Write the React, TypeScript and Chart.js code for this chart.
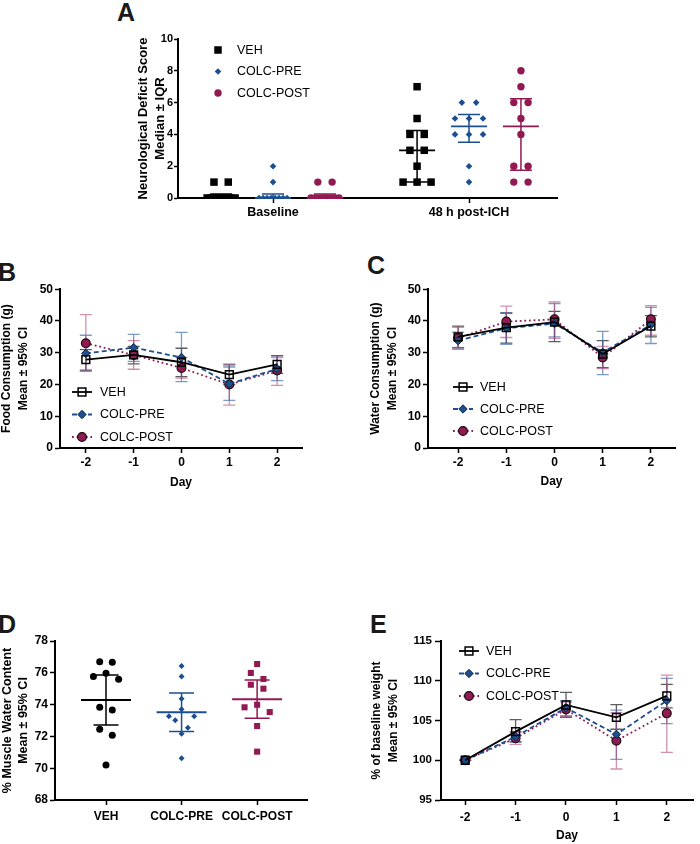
import React, { useEffect, useRef } from "react";
import { Chart, registerables } from "chart.js";

Chart.register(...registerables);

const FONT = "'Liberation Sans', Arial, Helvetica, sans-serif";
Chart.defaults.font.family = FONT;
Chart.defaults.color = "#000";

const BLACK = "#000000";
const BLUE = "#1c4f8f";
const CRIMSON = "#921a52";

const SERIES = ["VEH", "COLC-PRE", "COLC-POST"];

// ---------- Panel A: Neurological deficit score (individual animals)
const A_GROUPS = ["Baseline", "48 h post-ICH"];
const A_VEH_BASELINE = [0, 0, 0, 0, 0, 0, 0, 0, 1, 1];
const A_PRE_BASELINE = [0, 0, 0, 0, 0, 0, 0, 0, 1, 2];
const A_POST_BASELINE = [0, 0, 0, 0, 0, 0, 0, 0, 1, 1];
const A_VEH_48H = [7, 5, 4, 4, 3, 3, 2, 1, 1, 1];
const A_PRE_48H = [6, 6, 5, 5, 5, 4, 4, 4, 2, 1];
const A_POST_48H = [8, 7, 6, 6, 5, 4, 2, 2, 1, 1];

// ---------- Panels B, C, E: days
const DAYS = [-2, -1, 0, 1, 2];

// Panel B: food consumption (g), mean and 95% CI
const B_VEH_MEAN = [27.8, 29.3, 27.0, 23.1, 26.3];
const B_VEH_LO = [24.5, 26.5, 22.5, 20.0, 23.5];
const B_VEH_HI = [31.0, 32.0, 31.4, 26.2, 29.1];
const B_PRE_MEAN = [29.8, 31.6, 28.5, 20.2, 24.9];
const B_PRE_LO = [24.2, 27.3, 20.9, 15.0, 21.2];
const B_PRE_HI = [35.5, 35.8, 36.4, 25.5, 29.0];
const B_POST_MEAN = [33.0, 29.3, 25.2, 20.0, 24.4];
const B_POST_LO = [24.2, 24.8, 22.0, 13.5, 19.7];
const B_POST_HI = [42.0, 33.8, 28.5, 26.5, 28.5];

// Panel C: water consumption (g)
const C_VEH_MEAN = [35.0, 37.9, 39.6, 29.6, 38.4];
const C_VEH_LO = [31.6, 33.0, 33.5, 25.3, 35.0];
const C_VEH_HI = [38.4, 42.5, 43.0, 33.8, 41.7];
const C_PRE_MEAN = [33.8, 37.7, 39.2, 30.1, 38.8];
const C_PRE_LO = [31.1, 32.6, 35.0, 23.1, 32.9];
const C_PRE_HI = [36.5, 42.5, 45.5, 36.7, 44.3];
const C_POST_MEAN = [34.6, 39.8, 40.5, 28.5, 40.5];
const C_POST_LO = [31.5, 34.8, 34.5, 25.0, 35.5];
const C_POST_HI = [38.0, 44.7, 46.0, 32.0, 44.8];

// Panel D: % muscle water content (individual animals)
const D_VEH = [76.7, 76.66, 75.97, 75.76, 75.59, 73.83, 73.66, 72.45, 72.07, 70.2];
const D_PRE = [76.43, 75.76, 74.37, 73.7, 73.26, 73.26, 73.01, 72.55, 72.17, 70.62];
const D_POST = [76.55, 75.99, 75.61, 75.25, 75.0, 73.99, 73.83, 73.53, 72.65, 71.04];

// Panel E: % of baseline weight
const E_VEH_MEAN = [100, 103.6, 106.95, 105.4, 108.1];
const E_VEH_LO = [100, 102.3, 105.4, 103.9, 106.6];
const E_VEH_HI = [100, 105.1, 108.55, 107.0, 109.55];
const E_PRE_MEAN = [100, 102.96, 106.6, 103.26, 107.5];
const E_PRE_LO = [100, 102.3, 105.6, 100.1, 104.6];
const E_PRE_HI = [100, 103.6, 107.5, 106.3, 110.3];
const E_POST_MEAN = [100, 102.76, 106.4, 102.46, 105.9];
const E_POST_LO = [100, 102.0, 105.5, 98.9, 101.0];
const E_POST_HI = [100, 103.5, 107.3, 106.0, 110.7];

// ---------- statistics helpers
function quantile(vals: number[], p: number): number {
  const s = [...vals].sort((a, b) => a - b);
  const n = s.length;
  const pos = p * (n + 1);
  const lo = Math.floor(pos);
  const f = pos - lo;
  if (lo < 1) return s[0];
  if (lo >= n) return s[n - 1];
  return s[lo - 1] + f * (s[lo] - s[lo - 1]);
}
const T95 = [NaN, 12.706, 4.303, 3.182, 2.776, 2.571, 2.447, 2.365, 2.306, 2.262, 2.228, 2.201, 2.179, 2.16, 2.145, 2.131];
function meanCI(vals: number[]) {
  const n = vals.length;
  const m = vals.reduce((a, b) => a + b, 0) / n;
  const sd = Math.sqrt(vals.reduce((a, b) => a + (b - m) * (b - m), 0) / (n - 1));
  const h = (T95[n - 1] || 1.96) * sd / Math.sqrt(n);
  return { mid: m, lo: m - h, hi: m + h };
}

// symmetric "swarm" spreading of points whose pixel y are close
function swarmOffsets(values: number[], yPx: (v: number) => number, rowH: number, S: number, W: number): number[] {
  const idx = values.map((_, i) => i).sort((a, b) => values[b] - values[a]);
  const out = new Array(values.length).fill(0);
  let k = 0;
  while (k < idx.length) {
    const start = yPx(values[idx[k]]);
    let j = k;
    while (j < idx.length && Math.abs(yPx(values[idx[j]]) - start) < rowH) j++;
    const n = j - k;
    const s = n > 1 ? Math.min(S, W / (n - 1)) : 0;
    const offs: number[] = [];
    for (let m = 0; m < n; m++) offs.push((m - (n - 1) / 2) * s);
    offs.sort((a, b) => Math.abs(a) - Math.abs(b) || a - b);
    for (let m = 0; m < n; m++) out[idx[k + m]] = offs[m];
    k = j;
  }
  return out;
}

function applySwarm(chart: any, rowH: number, S: number, W: number) {
  const xs = chart.scales.x;
  const ys = chart.scales.y;
  const pxPerX = xs.getPixelForValue(1) - xs.getPixelForValue(0);
  chart.data.datasets.forEach((ds: any) => {
    const nd: any[] = [];
    ds.swarm.forEach((gr: any) => {
      const offs = swarmOffsets(gr.values, (v) => ys.getPixelForValue(v), rowH, S, W);
      gr.values.forEach((v: number, i: number) => nd.push({ x: gr.center + offs[i] / pxPerX, y: v }));
    });
    ds.data = nd;
  });
  chart.update("none");
}

// ---------- drawing helpers / plugins
function drawMarker(ctx: CanvasRenderingContext2D, style: string, x: number, y: number, r: number, fill: string, stroke: string, lw: number) {
  ctx.save();
  ctx.beginPath();
  if (style === "rect") {
    const s = r * Math.SQRT1_2;
    ctx.rect(x - s, y - s, 2 * s, 2 * s);
  } else if (style === "rectRot") {
    ctx.moveTo(x, y - r);
    ctx.lineTo(x + r, y);
    ctx.lineTo(x, y + r);
    ctx.lineTo(x - r, y);
    ctx.closePath();
  } else {
    ctx.arc(x, y, r, 0, Math.PI * 2);
  }
  if (fill) {
    ctx.fillStyle = fill;
    ctx.fill();
  }
  if (lw > 0) {
    ctx.lineWidth = lw;
    ctx.strokeStyle = stroke;
    ctx.stroke();
  }
  ctx.restore();
}

const legendPlugin = {
  id: "panelLegend",
  afterDraw(chart: any, _args: any, opts: any) {
    const ctx: CanvasRenderingContext2D = chart.ctx;
    chart.data.datasets.forEach((ds: any, i: number) => {
      const y = opts.y + i * opts.rowH;
      if (opts.lineLen > 0) {
        ctx.save();
        ctx.strokeStyle = ds.borderColor;
        ctx.lineWidth = ds.borderWidth;
        ctx.setLineDash(ds.borderDash || []);
        ctx.beginPath();
        ctx.moveTo(opts.x - opts.lineLen / 2, y);
        ctx.lineTo(opts.x + opts.lineLen / 2, y);
        ctx.stroke();
        ctx.restore();
      }
      drawMarker(ctx, ds.pointStyle, opts.x, y, ds.pointRadius, ds.pointBackgroundColor, ds.pointBorderColor, ds.pointBorderWidth);
      ctx.save();
      ctx.fillStyle = "#000";
      ctx.font = `${opts.fontSize}px ${FONT}`;
      ctx.textBaseline = "middle";
      ctx.textAlign = "left";
      ctx.fillText(ds.label, opts.textX, y + 0.5);
      ctx.restore();
    });
  },
};

const errorBarPlugin = {
  id: "errorBars",
  beforeDatasetsDraw(chart: any, _args: any, opts: any) {
    const ctx: CanvasRenderingContext2D = chart.ctx;
    const xs = chart.scales.x;
    const ys = chart.scales.y;
    chart.data.datasets.forEach((ds: any) => {
      if (!ds.errLo) return;
      ctx.save();
      ctx.strokeStyle = ds.errColor;
      ctx.lineWidth = opts.lineWidth;
      ds.data.forEach((p: any, i: number) => {
        const px = xs.getPixelForValue(p.x);
        const yl = ys.getPixelForValue(ds.errLo[i]);
        const yh = ys.getPixelForValue(ds.errHi[i]);
        ctx.beginPath();
        ctx.moveTo(px, yl);
        ctx.lineTo(px, yh);
        ctx.moveTo(px - opts.cap, yl);
        ctx.lineTo(px + opts.cap, yl);
        ctx.moveTo(px - opts.cap, yh);
        ctx.lineTo(px + opts.cap, yh);
        ctx.stroke();
      });
      ctx.restore();
    });
  },
};

const summaryPlugin = {
  id: "summaryBars",
  afterDatasetsDraw(chart: any, _args: any, opts: any) {
    const ctx: CanvasRenderingContext2D = chart.ctx;
    const xs = chart.scales.x;
    const ys = chart.scales.y;
    chart.data.datasets.forEach((ds: any) => {
      if (!ds.summaries) return;
      ctx.save();
      ctx.strokeStyle = ds.summaryColor;
      ds.summaries.forEach((s: any) => {
        const px = xs.getPixelForValue(s.x);
        const yl = ys.getPixelForValue(s.lo);
        const yh = ys.getPixelForValue(s.hi);
        const ym = ys.getPixelForValue(s.mid);
        ctx.lineWidth = opts.barWidth;
        ctx.beginPath();
        ctx.moveTo(px, yl);
        ctx.lineTo(px, yh);
        ctx.moveTo(px - opts.capHalf, yl);
        ctx.lineTo(px + opts.capHalf, yl);
        ctx.moveTo(px - opts.capHalf, yh);
        ctx.lineTo(px + opts.capHalf, yh);
        ctx.stroke();
        ctx.lineWidth = opts.midWidth;
        ctx.beginPath();
        ctx.moveTo(px - opts.midHalf, ym);
        ctx.lineTo(px + opts.midHalf, ym);
        ctx.stroke();
      });
      ctx.restore();
    });
  },
};

// ---------- scale builders
function yScale(o: any) {
  return {
    type: "linear",
    position: "left",
    min: o.min,
    max: o.max,
    ticks: { stepSize: o.step, font: { size: o.tickSize, weight: "bold", family: FONT }, color: "#000", padding: o.tickPad },
    grid: { drawOnChartArea: false, drawTicks: true, tickLength: o.tickLen, tickWidth: 1.5, tickColor: "#000" },
    border: { display: true, color: "#000", width: 2 },
    title: {
      display: true,
      text: o.title,
      color: "#000",
      font: { size: o.titleSize, weight: "bold", family: FONT, lineHeight: o.titleLH },
      padding: { top: o.titlePad, bottom: 0 },
    },
    afterFit: (s: any) => {
      s.width = o.width;
    },
  };
}

function xScale(o: any) {
  return {
    type: "linear",
    position: "bottom",
    min: o.min,
    max: o.max,
    afterBuildTicks: (s: any) => {
      s.ticks = o.ticks.map((v: number) => ({ value: v }));
    },
    ticks: {
      font: { size: o.tickSize, weight: "bold", family: FONT },
      color: "#000",
      padding: o.tickPad,
      maxRotation: 0,
      autoSkip: false,
      callback: (v: number) => (o.labels ? o.labels[o.ticks.indexOf(v)] : String(v)),
    },
    grid: { drawOnChartArea: false, drawTicks: true, tickLength: o.tickLen, tickWidth: 1.5, tickColor: "#000" },
    border: { display: true, color: "#000", width: 2 },
    title: o.title
      ? {
          display: true,
          text: o.title,
          color: "#000",
          font: { size: o.titleSize, weight: "bold", family: FONT, lineHeight: 1.2 },
          padding: { top: 0, bottom: o.titlePadBottom },
        }
      : { display: false },
    afterFit: (s: any) => {
      s.height = o.height;
    },
  };
}

// ---------- line style per series (B, C, E)
const LINE_STYLES = [
  { color: BLACK, lw: 1.8, dash: [], pointStyle: "rect", r: 5.5, fill: "rgba(255,255,255,0)", stroke: BLACK, plw: 1.5, err: "rgba(40,40,40,0.75)", order: 1 },
  { color: BLUE, lw: 1.8, dash: [5, 3], pointStyle: "rectRot", r: 4.2, fill: BLUE, stroke: "#0f2747", plw: 1, err: "rgba(50,100,170,0.65)", order: 2 },
  { color: CRIMSON, lw: 1.8, dash: [1.8, 2.8], pointStyle: "circle", r: 4.4, fill: CRIMSON, stroke: "#1a0a10", plw: 1.2, err: "rgba(180,70,120,0.6)", order: 3 },
];

function lineDatasets(means: number[][], los: number[][], his: number[][]) {
  return SERIES.map((label, s) => {
    const st = LINE_STYLES[s];
    return {
      label,
      data: DAYS.map((d, i) => ({ x: d, y: means[s][i] })),
      errLo: los[s],
      errHi: his[s],
      errColor: st.err,
      borderColor: st.color,
      borderWidth: st.lw,
      borderDash: st.dash,
      pointStyle: st.pointStyle,
      pointRadius: st.r,
      pointBackgroundColor: st.fill,
      pointBorderColor: st.stroke,
      pointBorderWidth: st.plw,
      order: st.order,
      tension: 0,
      fill: false,
    };
  });
}

function lineChart(canvas: HTMLCanvasElement, c: any) {
  return new Chart(canvas, {
    type: "line",
    data: { datasets: c.datasets },
    options: {
      responsive: false,
      animation: false,
      events: [],
      layout: { padding: { left: 0, top: c.area.t, right: c.w - c.area.r, bottom: 0 } },
      scales: {
        x: xScale({ ...c.x, height: c.h - c.area.b }),
        y: yScale({ ...c.y, width: c.area.l }),
      },
      plugins: {
        legend: { display: false },
        tooltip: { enabled: false },
        panelLegend: c.legend,
        errorBars: { cap: 6, lineWidth: 1.3 },
      },
    } as any,
    plugins: [errorBarPlugin, legendPlugin],
  });
}

// ---------- panel builders
const A_BOX = { left: 100, top: 25, w: 470, h: 200, area: { l: 78, t: 14, r: 457, b: 173 } };
const A_SERIES_OFFSET = [-0.265, 0, 0.265];

function buildA(canvas: HTMLCanvasElement) {
  const groups = [
    [A_VEH_BASELINE, A_VEH_48H],
    [A_PRE_BASELINE, A_PRE_48H],
    [A_POST_BASELINE, A_POST_48H],
  ];
  const styles = [
    { color: BLACK, ps: "rect", r: 5.3 },
    { color: BLUE, ps: "rectRot", r: 3.3 },
    { color: CRIMSON, ps: "circle", r: 3.7 },
  ];
  const datasets = SERIES.map((label, s) => {
    const swarm = groups[s].map((vals, g) => ({ center: g + A_SERIES_OFFSET[s], values: vals }));
    return {
      label,
      data: swarm.flatMap((gr) => gr.values.map((v) => ({ x: gr.center, y: v }))),
      swarm,
      summaries: swarm.map((gr) => ({ x: gr.center, mid: quantile(gr.values, 0.5), lo: quantile(gr.values, 0.25), hi: quantile(gr.values, 0.75) })),
      summaryColor: styles[s].color,
      pointStyle: styles[s].ps,
      pointRadius: styles[s].r,
      pointBackgroundColor: styles[s].color,
      pointBorderColor: styles[s].color,
      pointBorderWidth: 0,
      showLine: false,
    };
  });
  const b = A_BOX;
  const chart: any = new Chart(canvas, {
    type: "scatter",
    data: { datasets },
    options: {
      responsive: false,
      animation: false,
      events: [],
      layout: { padding: { left: 0, top: b.area.t, right: b.w - b.area.r, bottom: 0 } },
      scales: {
        x: xScale({ min: -0.485, max: 1.449, ticks: [0, 1], labels: A_GROUPS, tickSize: 12.5, tickLen: 5, tickPad: 2.5, height: b.h - b.area.b }),
        y: yScale({
          min: 0, max: 10, step: 2, tickSize: 11, tickLen: 4, tickPad: 1, width: b.area.l,
          title: ["Neurological Deficit Score", "Median \u00b1 IQR"], titleSize: 13, titleLH: 1.38, titlePad: 34,
        }),
      },
      plugins: {
        legend: { display: false },
        tooltip: { enabled: false },
        panelLegend: { x: 118, y: 25, rowH: 21.5, lineLen: 0, textX: 137, fontSize: 12.5 },
        summaryBars: { midHalf: 18, capHalf: 11, midWidth: 1.8, barWidth: 1.5 },
      },
    } as any,
    plugins: [summaryPlugin, legendPlugin],
  });
  applySwarm(chart, 6, 14.3, 28);
  return chart;
}

const B_BOX = { left: 0, top: 280, w: 310, h: 215, area: { l: 60, t: 9, r: 302, b: 168 } };
function buildB(canvas: HTMLCanvasElement) {
  const b = B_BOX;
  return lineChart(canvas, {
    w: b.w, h: b.h, area: b.area,
    datasets: lineDatasets([B_VEH_MEAN, B_PRE_MEAN, B_POST_MEAN], [B_VEH_LO, B_PRE_LO, B_POST_LO], [B_VEH_HI, B_PRE_HI, B_POST_HI]),
    x: { min: -2.54, max: 2.52, ticks: DAYS, tickSize: 12, tickLen: 5, tickPad: 2.8, title: "Day", titleSize: 12, titlePadBottom: 4.8 },
    y: { min: 0, max: 50, step: 10, tickSize: 12, tickLen: 5, tickPad: 2, title: ["Food Consumption (g)", "Mean \u00b1 95% CI"], titleSize: 12, titleLH: 1.4, titlePad: -1.4 },
    legend: { x: 82, y: 112, rowH: 22.5, lineLen: 20, textX: 100, fontSize: 12.5 },
  });
}

const C_BOX = { left: 365, top: 280, w: 335, h: 215, area: { l: 63, t: 9, r: 310, b: 168 } };
function buildC(canvas: HTMLCanvasElement) {
  const b = C_BOX;
  return lineChart(canvas, {
    w: b.w, h: b.h, area: b.area,
    datasets: lineDatasets([C_VEH_MEAN, C_PRE_MEAN, C_POST_MEAN], [C_VEH_LO, C_PRE_LO, C_POST_LO], [C_VEH_HI, C_PRE_HI, C_POST_HI]),
    x: { min: -2.625, max: 2.5, ticks: DAYS, tickSize: 12, tickLen: 5, tickPad: 2.8, title: "Day", titleSize: 12, titlePadBottom: 6 },
    y: { min: 0, max: 50, step: 10, tickSize: 12, tickLen: 5, tickPad: 2, title: ["Water Consumption (g)", "Mean \u00b1 95% CI"], titleSize: 12, titleLH: 1.35, titlePad: 3 },
    legend: { x: 98, y: 107, rowH: 22, lineLen: 20, textX: 115, fontSize: 12.5 },
  });
}

const D_BOX = { left: 0, top: 630, w: 320, h: 205, area: { l: 55, t: 11, r: 307, b: 170 } };
const D_CATEGORIES = ["VEH", "COLC-PRE", "COLC-POST"];
function buildD(canvas: HTMLCanvasElement) {
  const b = D_BOX;
  const vals = [D_VEH, D_PRE, D_POST];
  const styles = [
    { color: BLACK, ps: "circle", r: 3.5 },
    { color: BLUE, ps: "rectRot", r: 3.0 },
    { color: CRIMSON, ps: "rect", r: 4.3 },
  ];
  const datasets = SERIES.map((label, s) => {
    const swarm = [{ center: s, values: vals[s] }];
    const st = meanCI(vals[s]);
    return {
      label,
      data: vals[s].map((v) => ({ x: s, y: v })),
      swarm,
      summaries: [{ x: s, mid: st.mid, lo: st.lo, hi: st.hi }],
      summaryColor: styles[s].color,
      pointStyle: styles[s].ps,
      pointRadius: styles[s].r,
      pointBackgroundColor: styles[s].color,
      pointBorderColor: styles[s].color,
      pointBorderWidth: 0,
      showLine: false,
    };
  });
  const chart: any = new Chart(canvas, {
    type: "scatter",
    data: { datasets },
    options: {
      responsive: false,
      animation: false,
      events: [],
      layout: { padding: { left: 0, top: b.area.t, right: b.w - b.area.r, bottom: 0 } },
      scales: {
        x: xScale({ min: -0.675, max: 2.66, ticks: [0, 1, 2], labels: D_CATEGORIES, tickSize: 12, tickLen: 5, tickPad: 4.5, height: b.h - b.area.b }),
        y: yScale({
          min: 68, max: 78, step: 2, tickSize: 12, tickLen: 5, tickPad: 2, width: b.area.l,
          title: ["% Muscle Water Content", "Mean \u00b1 95% CI"], titleSize: 12.5, titleLH: 1.32, titlePad: -1,
        }),
      },
      plugins: {
        legend: { display: false },
        tooltip: { enabled: false },
        summaryBars: { midHalf: 25, capHalf: 12.5, midWidth: 2, barWidth: 1.5 },
      },
    } as any,
    plugins: [summaryPlugin],
  });
  applySwarm(chart, 8, 12.6, 28);
  return chart;
}

const E_BOX = { left: 365, top: 630, w: 335, h: 214, area: { l: 76, t: 11, r: 335, b: 170 } };
function buildE(canvas: HTMLCanvasElement) {
  const b = E_BOX;
  return lineChart(canvas, {
    w: b.w, h: b.h, area: b.area,
    datasets: lineDatasets([E_VEH_MEAN, E_PRE_MEAN, E_POST_MEAN], [E_VEH_LO, E_PRE_LO, E_POST_LO], [E_VEH_HI, E_PRE_HI, E_POST_HI]),
    x: { min: -2.48, max: 2.52, ticks: DAYS, tickSize: 12, tickLen: 5, tickPad: 5.8, title: "Day", titleSize: 12, titlePadBottom: 0.8 },
    y: { min: 95, max: 115, step: 5, tickSize: 11.5, tickLen: 6, tickPad: 3, title: ["% of baseline weight", "Mean \u00b1 95% CI"], titleSize: 12, titleLH: 1.4, titlePad: 3.6 },
    legend: { x: 104, y: 21, rowH: 22.5, lineLen: 20, textX: 121, fontSize: 12.5 },
  });
}

// ---------- React
function ChartCanvas({ box, build }: { box: any; build: (c: HTMLCanvasElement) => any }) {
  const ref = useRef<HTMLCanvasElement>(null);
  useEffect(() => {
    const chart = build(ref.current as HTMLCanvasElement);
    return () => chart.destroy();
  }, []);
  return (
    <canvas
      ref={ref}
      width={box.w}
      height={box.h}
      style={{ position: "absolute", left: box.left, top: box.top, width: box.w, height: box.h }}
    />
  );
}

const LETTERS = [
  { t: "A", left: 117, top: 0 },
  { t: "B", left: -2, top: 259.7 },
  { t: "C", left: 367, top: 253.4 },
  { t: "D", left: -2, top: 611.7 },
  { t: "E", left: 370, top: 611.7 },
];

export default function App() {
  return (
    <div style={{ position: "fixed", left: 0, top: 0, width: 700, height: 844, overflow: "hidden", background: "#fff", fontFamily: FONT }}>
      {LETTERS.map((l) => (
        <div
          key={l.t}
          style={{ position: "absolute", left: l.left, top: l.top, fontSize: 25, lineHeight: "25px", fontWeight: 700, color: "#1a1a1a", fontFamily: FONT }}
        >
          {l.t}
        </div>
      ))}
      <ChartCanvas box={A_BOX} build={buildA} />
      <ChartCanvas box={B_BOX} build={buildB} />
      <ChartCanvas box={C_BOX} build={buildC} />
      <ChartCanvas box={D_BOX} build={buildD} />
      <ChartCanvas box={E_BOX} build={buildE} />
    </div>
  );
}
